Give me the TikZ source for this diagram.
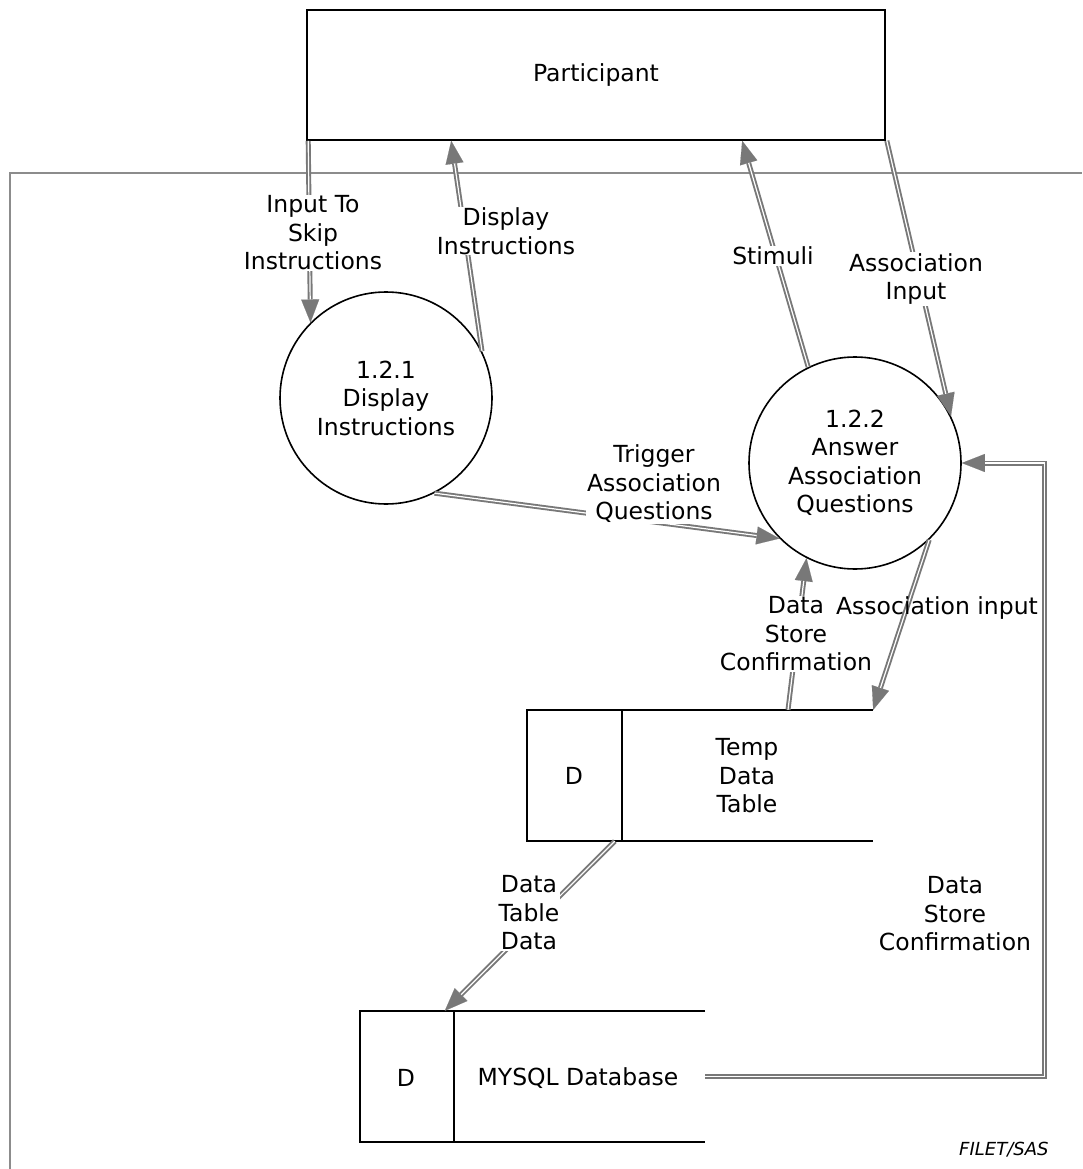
\documentclass[tikz,border=0pt]{standalone}
\usepackage{fontspec}
\setmainfont{DejaVu Sans}
\usetikzlibrary{arrows.meta, positioning, calc}
\definecolor{cFlow}{RGB}{120,120,120}
\definecolor{cFrame}{RGB}{140,140,140}
\tikzset{
  basebox/.style={align=center, font=\fontsize{23.5}{28.5}\selectfont, inner sep=1pt},
  entitynode/.style={basebox, rectangle, draw=black, line width=1.6pt,
                     minimum width=578pt, minimum height=130pt},
  procnode/.style={basebox, circle, draw=black, line width=1.6pt,
                   minimum size=212pt},
  storenode/.style={rectangle, minimum width=346pt, minimum height=131pt,
                    inner sep=0pt},
  storeline/.style={draw=black, line width=1.6pt},
  flowlabel/.style={basebox, fill=white},
  plainlabel/.style={basebox},
  flowarrow/.style={draw=cFlow, line width=5pt,
                    -{Triangle[length=23pt, width=18pt, line width=0.1pt]},
                    postaction={draw=white, line width=1.2pt, shorten >=23pt, -}}
}
\begin{document}
\begin{tikzpicture}[x=1pt, y=-1pt]
  \fill[white] (0,0) rectangle (1082,1169);
  \useasboundingbox (0,0) rectangle (1082,1169);

  % System boundary
  \draw[cFrame, line width=2pt] (10,1169) -- (10,173) -- (1082,173);

  % External entity and processes
  \node[entitynode] (participant) at (596,75) {Participant};
  \node[procnode] (p121) at (386,398) {1.2.1\\Display\\Instructions};
  \node[procnode] (p122) at (855,463) {1.2.2\\Answer\\Association\\Questions};

  % Data stores
  \node[storenode] (temp) at (700,775.5) {};
  \draw[storeline] (temp.north east) -- (temp.north west) -- (temp.south west) -- (temp.south east);
  \draw[storeline] ([xshift=95pt]temp.north west) -- ([xshift=95pt]temp.south west);
  \node[basebox] (tempid) at (574,776) {D};
  \node[basebox] (tempname) at (747,776) {Temp\\Data\\Table};

  \node[storenode, minimum width=345pt] (mysql) at (532.5,1076.5) {};
  \draw[storeline] (mysql.north east) -- (mysql.north west) -- (mysql.south west) -- (mysql.south east);
  \draw[storeline] ([xshift=94pt]mysql.north west) -- ([xshift=94pt]mysql.south west);
  \node[basebox] (mysqlid) at (406,1078) {D};
  \node[basebox] (mysqlname) at (578,1078) {MYSQL Database};

  % Data flows
  \draw[flowarrow] ([xshift=2pt]participant.south west) -- (p121.135);
  \draw[flowarrow] (p121.26) -- ([xshift=145pt]participant.south west);
  \draw[flowarrow] (p122.116) -- ([xshift=436pt]participant.south west);
  \draw[flowarrow] ([xshift=1pt]participant.south east) -- (p122.26);
  \draw[flowarrow] (p121.-63) -- (p122.225);
  \draw[flowarrow] ([xshift=88pt]temp.north) -- (p122.243);
  \draw[flowarrow] (p122.-46) -- (temp.north east);
  \draw[flowarrow] ([xshift=88pt]temp.south west) -- ([xshift=85pt]mysql.north west);
  \draw[flowarrow] (mysql.east) -| ($(p122.east)+(83,0)$) -- (p122.east);

  % Flow labels
  \node[flowlabel] (lskip) at (313,233) {Input To\\Skip\\Instructions};
  \node[flowlabel] (ldisp) at (506,231) {Display\\Instructions};
  \node[flowlabel] (lstim) at (773,256) {Stimuli};
  \node[flowlabel] (lassoc) at (916,279) {Association\\Input};
  \node[flowlabel] (ltrig) at (654,484) {Trigger\\Association\\Questions};
  \node[flowlabel] (lconfa) at (796,634) {Data\\Store\\Confirmation};
  \node[plainlabel] (lassin) at (937,608) {Association input};
  \node[flowlabel] (ltable) at (529,913) {Data\\Table\\Data};
  \node[plainlabel] (lconfb) at (955,914) {Data\\Store\\Confirmation};

  \node[font=\fontsize{18}{20}\selectfont\itshape, anchor=east] (credit) at (1052,1150) {FILET/SAS};
\end{tikzpicture}
\end{document}
